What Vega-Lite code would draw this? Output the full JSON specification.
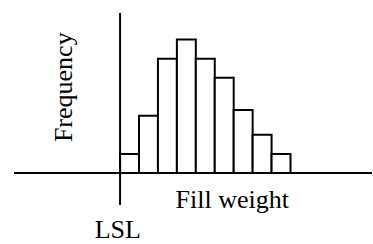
{
  "$schema": "https://vega.github.io/schema/vega-lite/v6.json",
  "width": 373,
  "height": 244,
  "autosize": {"type": "fit", "contains": "padding"},
  "padding": 0,
  "background": "white",
  "config": {"view": {"stroke": null}},
  "datasets": {
    "bins": [
      {"start": 0, "end": 1, "count": 1},
      {"start": 1, "end": 2, "count": 3},
      {"start": 2, "end": 3, "count": 6},
      {"start": 3, "end": 4, "count": 7},
      {"start": 4, "end": 5, "count": 6},
      {"start": 5, "end": 6, "count": 5},
      {"start": 6, "end": 7, "count": 3.3},
      {"start": 7, "end": 8, "count": 2},
      {"start": 8, "end": 9, "count": 1}
    ],
    "lines": [
      {"name": "baseline", "x1": -5.6, "x2": 13.3, "y1": 0, "y2": 0},
      {"name": "LSL", "x1": 0, "x2": 0, "y1": -1.68, "y2": 8.4}
    ],
    "labels": [
      {"label": "Fill weight", "x": 2.93, "y": -1.84},
      {"label": "LSL", "x": -1.34, "y": -3.43}
    ],
    "ylabel": [
      {"label": "Frequency", "x": -2.95, "y": 4.5}
    ]
  },
  "layer": [
    {
      "data": {"name": "bins"},
      "mark": {"type": "rect", "fill": "white", "stroke": "black", "strokeWidth": 2},
      "encoding": {
        "x": {"field": "start", "type": "quantitative", "scale": {"domain": [-6.34, 13.25], "nice": false, "zero": false}, "axis": null},
        "x2": {"field": "end"},
        "y": {"field": "count", "type": "quantitative", "scale": {"domain": [-3.73, 9.08], "nice": false, "zero": false}, "axis": null},
        "y2": {"datum": 0}
      }
    },
    {
      "data": {"name": "lines"},
      "mark": {"type": "rule", "color": "black", "strokeWidth": 2},
      "encoding": {
        "x": {"field": "x1", "type": "quantitative"},
        "x2": {"field": "x2"},
        "y": {"field": "y1", "type": "quantitative"},
        "y2": {"field": "y2"}
      }
    },
    {
      "data": {"name": "labels"},
      "mark": {"type": "text", "font": "Liberation Serif", "fontSize": 26, "align": "left", "baseline": "alphabetic", "color": "black"},
      "encoding": {
        "x": {"field": "x", "type": "quantitative"},
        "y": {"field": "y", "type": "quantitative"},
        "text": {"field": "label"}
      }
    },
    {
      "data": {"name": "ylabel"},
      "mark": {"type": "text", "font": "Liberation Serif", "fontSize": 26, "align": "center", "baseline": "middle", "angle": 270, "color": "black"},
      "encoding": {
        "x": {"field": "x", "type": "quantitative"},
        "y": {"field": "y", "type": "quantitative"},
        "text": {"field": "label"}
      }
    }
  ]
}
